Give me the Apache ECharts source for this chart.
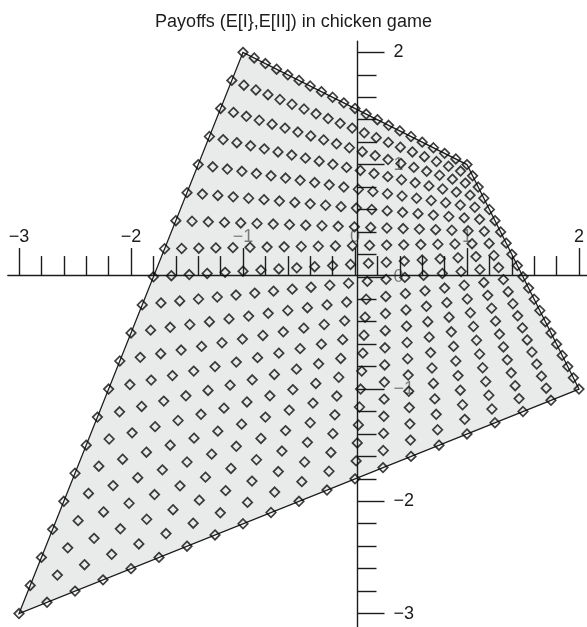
<!DOCTYPE html>
<html>
<head>
<meta charset="utf-8">
<script src="https://cdn.jsdelivr.net/npm/echarts@6/dist/echarts.min.js"></script>
<style>
  html, body { margin: 0; padding: 0; background: #fff; }
  #chart { width: 587px; height: 627px; }
</style>
</head>
<body>
<div id="chart"></div>
<script>
const titleText = 'Payoffs (E[I},E[II]) in chicken game';

// Payoff matrices: rows = player I (Swerve, Straight), columns = player II (Swerve, Straight)
const payoffI  = [[1, -1], [2, -3]];
const payoffII = [[1,  2], [-1, -3]];

// Probabilities of swerving used for each player's mixed strategy
const swerveProb = [0, 0.05, 0.1, 0.15, 0.2, 0.25, 0.3, 0.35, 0.4, 0.45, 0.5,
                    0.55, 0.6, 0.65, 0.7, 0.75, 0.8, 0.85, 0.9, 0.95, 1];

// Axis tick values
const majorTicks = [-3, -2, -1, 0, 1, 2];
const minorTicks = [-2.8, -2.6, -2.4, -2.2, -1.8, -1.6, -1.4, -1.2, -0.8, -0.6, -0.4, -0.2,
                    0.2, 0.4, 0.6, 0.8, 1.2, 1.4, 1.6, 1.8];

// Expected payoff of a 2x2 matrix when I swerves with p and II swerves with q
function expected(m, p, q) {
  return p * q * m[0][0] + p * (1 - q) * m[0][1] +
         (1 - p) * q * m[1][0] + (1 - p) * (1 - q) * m[1][1];
}

const payoffPoints = [];
swerveProb.forEach(p => {
  swerveProb.forEach(q => {
    payoffPoints.push([expected(payoffI, p, q), expected(payoffII, p, q)]);
  });
});

// Pure-strategy outcomes, in order round the feasible region
const hull = [
  [payoffI[0][0], payoffII[0][0]],
  [payoffI[1][0], payoffII[1][0]],
  [payoffI[1][1], payoffII[1][1]],
  [payoffI[0][1], payoffII[0][1]]
];

const ink = '#1c1c1c';
const fontFamily = '"Liberation Sans", Arial, Helvetica, sans-serif';
const fmt = v => (v < 0 ? '\u2212' + Math.abs(v) : String(v));

// Plot area: 1 unit ≈ 112.8 px, origin at (357.5, 278)
const unit = 112.8;
const xMin = -3.1, xMax = 2.07, yMin = -3.12, yMax = 2.1;
const gridLeft = 357.5 + xMin * unit;
const gridTop = 278 - yMax * unit;
const gridWidth = (xMax - xMin) * unit;
const gridHeight = (yMax - yMin) * unit;

// Axes cross at the origin: shift them from the grid edges onto the zero lines
const xAxisOffset = yMin * unit;
const yAxisOffset = xMin * unit;

// kind: 'major' = line + long ticks, 'minor' = short ticks, 'labels' = tick labels only
function axisDef(dim, kind) {
  const isX = dim === 'x';
  const major = kind === 'major';
  const labels = kind === 'labels';
  return {
    type: 'value',
    min: isX ? xMin : yMin,
    max: isX ? xMax : yMax,
    position: isX ? 'bottom' : 'left',
    offset: isX ? xAxisOffset : yAxisOffset,
    z: labels ? 0 : 5,
    axisLine: { show: major, onZero: false, lineStyle: { color: ink, width: 1.4 } },
    axisTick: {
      show: !labels, inside: true, length: major ? 27 : 19,
      customValues: major ? majorTicks : minorTicks,
      lineStyle: { color: ink, width: 1.4 }
    },
    axisLabel: {
      show: labels, inside: true, margin: isX ? 29 : 36, customValues: majorTicks,
      formatter: fmt, color: ink, fontSize: 18, fontFamily
    },
    splitLine: { show: false }
  };
}

const chart = echarts.init(document.getElementById('chart'), null, { renderer: 'canvas' });
chart.setOption({
  animation: false,
  backgroundColor: '#ffffff',
  title: {
    text: titleText, left: 'center', top: 8,
    textStyle: { color: ink, fontSize: 18, fontWeight: 'normal', fontFamily }
  },
  grid: { left: gridLeft, top: gridTop, width: gridWidth, height: gridHeight, containLabel: false },
  xAxis: [axisDef('x', 'major'), axisDef('x', 'minor'), axisDef('x', 'labels')],
  yAxis: [axisDef('y', 'major'), axisDef('y', 'minor'), axisDef('y', 'labels')],
  series: [
    {
      // Feasible payoff region, a translucent fill laid over the tick labels
      type: 'custom',
      z: 2,
      xAxisIndex: 0, yAxisIndex: 0,
      data: hull,
      encode: { x: 0, y: 1 },
      renderItem: (params, api) => {
        if (params.dataIndex !== 0) return;
        const pts = hull.map(v => api.coord(v));
        return {
          type: 'polygon',
          shape: { points: pts },
          style: { fill: 'rgba(211,213,213,0.5)', stroke: ink, lineWidth: 1.3 }
        };
      },
      silent: true
    },
    {
      type: 'scatter',
      z: 8,
      xAxisIndex: 0, yAxisIndex: 0,
      data: payoffPoints,
      symbol: 'diamond',
      symbolSize: 9.5,
      itemStyle: { color: 'rgba(0,0,0,0)', borderColor: '#0d0d0d', borderWidth: 1.7 },
      silent: true
    }
  ]
});
</script>
</body>
</html>
